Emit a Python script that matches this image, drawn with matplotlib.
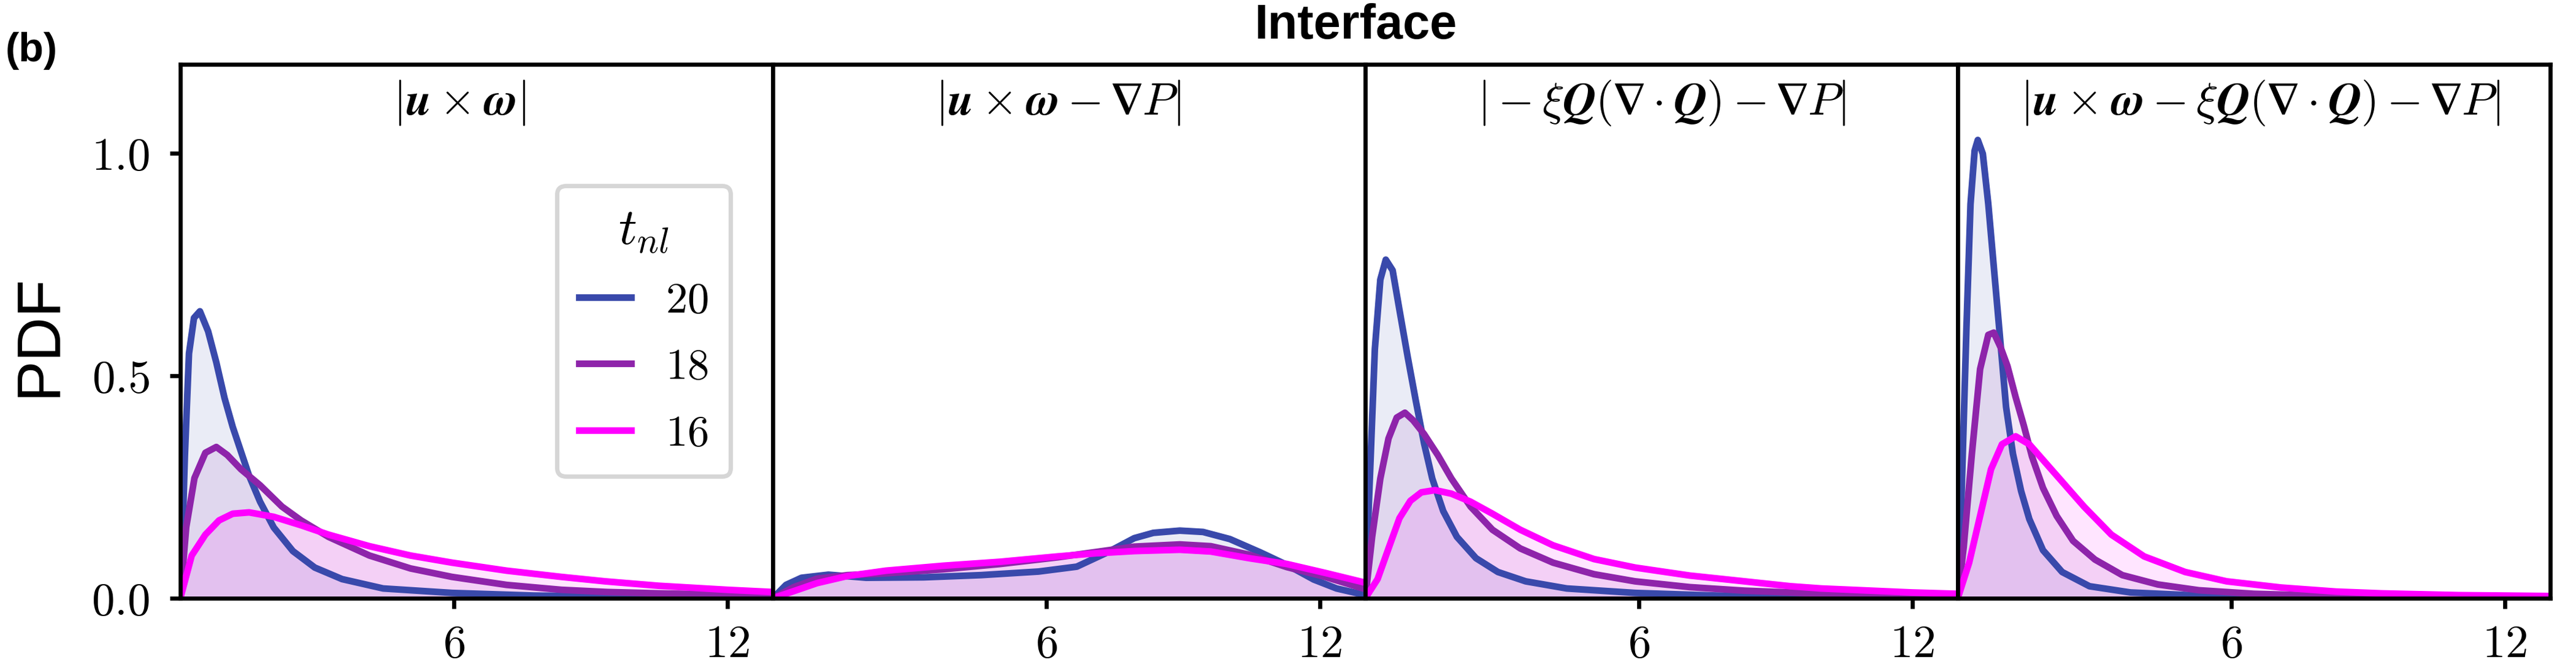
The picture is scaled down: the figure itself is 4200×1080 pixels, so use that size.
import io
import matplotlib
matplotlib.use('Agg')
import matplotlib.pyplot as plt
from matplotlib import mathtext

plt.rcParams['mathtext.fontset'] = 'cm'
plt.rcParams['font.family'] = ['Liberation Sans', 'DejaVu Sans']

# legend entries (t_nl) and their colours
t_labels = ['20', '18', '16']
colors = ['#3949ab', '#8e24aa', '#ff00ff']

panel_titles = [
    r'$|\mathbfit{u}\times\mathbfit{\omega}|$',
    r'$|\mathbfit{u}\times\mathbfit{\omega}-\mathbf{∇}P|$',
    r'$|-\xi\mathbfit{Q}(\mathbf{∇}\cdot\mathbfit{Q})-\mathbf{∇}P|$',
    r'$|\mathbfit{u}\times\mathbfit{\omega}-\xi\mathbfit{Q}(\mathbf{∇}\cdot\mathbfit{Q})-\mathbf{∇}P|$',
]

# panel 1 : |u x w|
p1_x20 = [0, 0.05, 0.1, 0.19, 0.3, 0.43, 0.61, 0.79, 0.97, 1.15, 1.33, 1.51, 1.75, 2.05, 2.47, 2.95, 3.55, 4.45, 5.96, 7.76, 9.5, 11, 13]
p1_y20 = [0, 0.15, 0.32, 0.55, 0.63, 0.645, 0.60, 0.53, 0.45, 0.385, 0.33, 0.275, 0.217, 0.159, 0.106, 0.069, 0.043, 0.022, 0.012, 0.006, 0.004, 0.002, 0.001]
p1_x18 = [0, 0.13, 0.31, 0.55, 0.79, 1.03, 1.33, 1.75, 2.23, 2.65, 3.25, 4.15, 5.05, 5.96, 7.16, 8.36, 9.37, 10.5, 12, 13]
p1_y18 = [0, 0.16, 0.27, 0.327, 0.34, 0.322, 0.29, 0.254, 0.206, 0.175, 0.138, 0.096, 0.067, 0.048, 0.030, 0.019, 0.014, 0.011, 0.008, 0.006]
p1_x16 = [0, 0.25, 0.55, 0.85, 1.15, 1.51, 2.05, 2.65, 3.25, 4.15, 5.05, 5.96, 7.16, 8.36, 9.32, 10.5, 12, 13]
p1_y16 = [0, 0.096, 0.143, 0.175, 0.19, 0.193, 0.183, 0.164, 0.143, 0.117, 0.096, 0.080, 0.062, 0.048, 0.038, 0.028, 0.019, 0.014]

# panel 2 : |u x w - grad P|
p2_x20 = [0, 0.29, 0.63, 1.22, 2.05, 3.31, 4.57, 5.83, 6.67, 7.34, 7.93, 8.35, 8.93, 9.44, 10.03, 10.7, 11.28, 11.87, 12.37, 12.92]
p2_y20 = [0, 0.03, 0.046, 0.053, 0.046, 0.047, 0.052, 0.06, 0.071, 0.103, 0.135, 0.147, 0.152, 0.149, 0.133, 0.103, 0.075, 0.042, 0.022, 0.009]
p2_x18 = [0, 0.46, 0.97, 1.64, 2.48, 3.73, 4.99, 6.25, 7.09, 7.93, 8.93, 9.61, 10.45, 11.28, 12.12, 12.92]
p2_y18 = [0, 0.025, 0.044, 0.052, 0.056, 0.065, 0.077, 0.092, 0.104, 0.116, 0.121, 0.117, 0.098, 0.070, 0.048, 0.023]
p2_x16 = [0, 0.46, 0.97, 1.64, 2.48, 3.73, 4.99, 6.25, 7.09, 7.93, 8.93, 9.61, 10.45, 11.28, 12.12, 12.92]
p2_y16 = [0, 0.016, 0.034, 0.05, 0.062, 0.073, 0.082, 0.094, 0.101, 0.106, 0.109, 0.105, 0.09, 0.077, 0.057, 0.037]

# panel 3 : |-xi Q (div Q) - grad P|
p3_x20 = [0, 0.09, 0.21, 0.33, 0.45, 0.60, 0.75, 0.93, 1.11, 1.29, 1.47, 1.71, 2.01, 2.43, 2.91, 3.52, 4.42, 5.92, 7.7, 10, 13]
p3_y20 = [0, 0.243, 0.56, 0.716, 0.761, 0.737, 0.648, 0.543, 0.443, 0.348, 0.269, 0.196, 0.138, 0.090, 0.059, 0.038, 0.022, 0.012, 0.006, 0.003, 0.001]
p3_x18 = [0, 0.15, 0.33, 0.51, 0.69, 0.87, 1.05, 1.29, 1.59, 1.89, 2.31, 2.79, 3.40, 4.12, 5.02, 5.92, 7.12, 8.32, 9.33, 10, 12, 13]
p3_y18 = [0, 0.138, 0.269, 0.359, 0.406, 0.417, 0.40, 0.369, 0.322, 0.269, 0.206, 0.154, 0.112, 0.080, 0.054, 0.038, 0.025, 0.017, 0.013, 0.010, 0.006, 0.005]
p3_x16 = [0, 0.27, 0.51, 0.75, 0.99, 1.23, 1.53, 1.89, 2.31, 2.79, 3.40, 4.12, 5.02, 5.92, 7.12, 8.32, 9.33, 10, 12, 13]
p3_y16 = [0, 0.043, 0.112, 0.18, 0.219, 0.238, 0.243, 0.235, 0.217, 0.19, 0.154, 0.119, 0.088, 0.069, 0.051, 0.038, 0.027, 0.022, 0.013, 0.010]

# panel 4 : full sum
p4_x20 = [0, 0.07, 0.19, 0.28, 0.37, 0.44, 0.55, 0.67, 0.79, 0.91, 1.06, 1.21, 1.39, 1.57, 1.87, 2.29, 2.89, 3.79, 5.29, 8, 13]
p4_y20 = [0, 0.185, 0.606, 0.886, 1.006, 1.03, 0.999, 0.886, 0.746, 0.606, 0.43, 0.325, 0.241, 0.178, 0.108, 0.059, 0.027, 0.013, 0.006, 0.002, 0.001]
p4_x18 = [0, 0.13, 0.31, 0.49, 0.67, 0.79, 0.94, 1.09, 1.27, 1.45, 1.63, 1.87, 2.17, 2.53, 3.01, 3.61, 4.39, 5.29, 6.5, 8.3, 13]
p4_y18 = [0, 0.115, 0.325, 0.515, 0.592, 0.597, 0.564, 0.522, 0.452, 0.388, 0.318, 0.248, 0.185, 0.129, 0.087, 0.052, 0.031, 0.018, 0.010, 0.005, 0.002]
p4_x16 = [0, 0.25, 0.49, 0.73, 0.97, 1.27, 1.57, 1.87, 2.29, 2.77, 3.37, 4.09, 4.99, 5.9, 7.1, 8.3, 9.3, 11, 13]
p4_y16 = [0, 0.08, 0.185, 0.29, 0.346, 0.364, 0.346, 0.311, 0.262, 0.206, 0.143, 0.094, 0.059, 0.038, 0.024, 0.015, 0.011, 0.007, 0.005]

panels = [
    [(p1_x20, p1_y20), (p1_x18, p1_y18), (p1_x16, p1_y16)],
    [(p2_x20, p2_y20), (p2_x18, p2_y18), (p2_x16, p2_y16)],
    [(p3_x20, p3_y20), (p3_x18, p3_y18), (p3_x16, p3_y16)],
    [(p4_x20, p4_y20), (p4_x18, p4_y18), (p4_x16, p4_y16)],
]


def usable(tex):
    # the cm fontset may not know \mathbfit / a bold nabla -> fall back
    try:
        mathtext.math_to_image(tex, io.BytesIO(), dpi=72, format='png')
        return tex
    except Exception:
        return tex.replace(r'\mathbfit', r'\mathbf').replace('∇', r'\nabla')


fig, axes = plt.subplots(1, 4, figsize=(14, 3.6), dpi=300)
fig.subplots_adjust(left=0.070, right=0.990, bottom=0.0963, top=0.9028, wspace=0)

title_x = [0.471, 0.481, 0.50, 0.51]

for i, ax in enumerate(axes):
    for j, (x, y) in enumerate(panels[i]):
        ax.fill_between(x, y, color=colors[j], alpha=0.1, lw=0)
        ax.plot(x, y, color=colors[j], lw=2.6, label='$' + t_labels[j] + '$')
    ax.set_xlim(0, 13)
    ax.set_ylim(0, 1.2)
    ax.set_xticks([6, 12])
    ax.set_xticklabels(['$6$', '$12$'], fontsize=18)
    ax.tick_params(axis='x', direction='out', length=4, width=1.6, pad=6)
    for sp in ax.spines.values():
        sp.set_linewidth(1.6)
        sp.set_zorder(3)
    ax.text(title_x[i], 0.928, usable(panel_titles[i]), transform=ax.transAxes,
            ha='center', va='center', fontsize=18)
    if i == 0:
        ax.set_yticks([0, 0.5, 1.0])
        ax.set_yticklabels(['$0.0$', '$0.5$', '$1.0$'], fontsize=18)
        ax.tick_params(axis='y', direction='out', length=4, width=1.6, pad=8)
    else:
        ax.tick_params(axis='y', left=False, labelleft=False)

leg = axes[0].legend(title=r'$t_{nl}$', loc='upper left', bbox_to_anchor=(0.636, 0.773),
                     borderaxespad=0, fontsize=17, title_fontsize=20, frameon=True,
                     fancybox=True, edgecolor='#d6d6d6', framealpha=1, handlelength=1.2,
                     handletextpad=0.8, labelspacing=0.6, borderpad=0.5)
leg.get_frame().set_linewidth(1.7)

fig.text(0.0155, 0.494, 'PDF', rotation=90, ha='center', va='center', fontsize=24)
fig.text(0.5264, 0.961, 'Interface', ha='center', va='center', fontsize=19, fontweight='bold')
fig.text(0.002, 0.923, '(b)', ha='left', va='center', fontsize=16, fontweight='bold')

plt.savefig('out.png', dpi=300)
